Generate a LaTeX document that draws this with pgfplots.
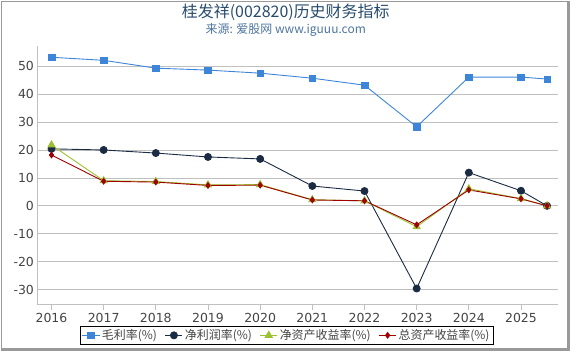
\documentclass[border=0pt]{standalone}
\usepackage{pgfplots}
\pgfplotsset{compat=1.18}
\usepackage{fontspec}
\setmainfont{DejaVu Sans}
\newfontfamily\cjk{Noto Sans CJK SC}
\definecolor{cBlue}{HTML}{3D85D8}
\definecolor{cNavy}{HTML}{1B2B44}
\definecolor{cGreen}{HTML}{9BC22E}
\definecolor{cRed}{HTML}{A00000}
\definecolor{cTitle}{HTML}{274B6D}
\definecolor{cSub}{HTML}{4D759E}
\definecolor{cGrid}{HTML}{C0C0C0}
\definecolor{cTick}{HTML}{444444}
\begin{document}
\begin{tikzpicture}[x=1pt,y=1pt]
\path (0,0) rectangle (570,350);
\draw[gray!80, line width=1pt] (0.5,3) -- (0.5,349.5) -- (567,349.5);
\draw[gray!80, line width=3pt] (568.5,350) -- (568.5,1.5) -- (0,1.5);
\node[font=\cjk\fontsize{16}{16}\selectfont, text=cTitle] at (285,339) {桂发祥(002820)历史财务指标};
\node[font=\cjk\fontsize{12}{12}\selectfont, text=cSub] at (285,321) {来源: 爱股网 www.iguuu.com};
\begin{axis}[
  at={(36pt,46pt)}, anchor=south west,
  scale only axis, width=522pt, height=259pt,
  xmin=2015.73, xmax=2025.71,
  ymin=-35.4, ymax=57.1,
  xtick={2016,2017,2018,2019,2020,2021,2022,2023,2024,2025},
  xticklabels={2016,2017,2018,2019,2020,2021,2022,2023,2024,2025},
  ytick={-30,-20,-10,0,10,20,30,40,50},
  /pgf/number format/assume math mode=true,
  tick label style={font=\fontsize{12.5}{12.5}\selectfont, text=cTick},
  ymajorgrids, grid style={cGrid, line width=0.8pt},
  axis x line*=bottom, axis y line*=left,
  x axis line style={cGrid, line width=0.8pt, -},
  y axis line style={cGrid, line width=0.8pt, -},
  xtick style={cGrid, line width=0.8pt},
  major x tick style={cGrid},
  ytick style={draw=none},
  xtick align=outside,
  major tick length=5pt,
  clip=false,
  legend style={at={(0.479,-0.081)}, anchor=north, legend columns=4,
    draw=black, line width=0.8pt, font=\cjk\fontsize{12}{12}\selectfont,
    text=cTick, inner sep=1.5pt,
    /tikz/every even column/.append style={column sep=6pt}},
  legend cell align=left,
]
\addplot[cBlue, line width=0.9pt, mark=square*, mark size=3.3pt, mark options={solid, fill=cBlue, draw=cBlue, line width=0.5pt}]
 coordinates {(2016,53.2)(2017,52.1)(2018,49.3)(2019,48.6)(2020,47.5)(2021,45.7)(2022,43.2)(2023,28.3)(2024,46.1)(2025,46.1)(2025.5,45.4)};
\addlegendentry{毛利率(\%)}
\addplot[cNavy, line width=0.9pt, mark=*, mark size=3.5pt, mark options={solid, fill=cNavy}]
 coordinates {(2016,20.4)(2017,20.0)(2018,18.9)(2019,17.5)(2020,16.8)(2021,7.1)(2022,5.3)(2023,-29.6)(2024,11.9)(2025,5.4)(2025.5,0.0)};
\addlegendentry{净利润率(\%)}
\addplot[cGreen, line width=0.9pt, mark=triangle*, mark size=4pt, mark options={solid, fill=cGreen}]
 coordinates {(2016,21.8)(2017,9.0)(2018,8.7)(2019,7.5)(2020,7.6)(2021,2.2)(2022,1.8)(2023,-7.5)(2024,6.1)(2025,2.6)(2025.5,0.0)};
\addlegendentry{净资产收益率(\%)}
\addplot[cRed, line width=0.9pt, mark=diamond*, mark size=2.8pt, mark options={solid, fill=cRed}]
 coordinates {(2016,18.2)(2017,8.8)(2018,8.5)(2019,7.3)(2020,7.4)(2021,2.1)(2022,1.8)(2023,-6.8)(2024,5.7)(2025,2.5)(2025.5,0.0)};
\addlegendentry{总资产收益率(\%)}
\end{axis}
\end{tikzpicture}
\end{document}
